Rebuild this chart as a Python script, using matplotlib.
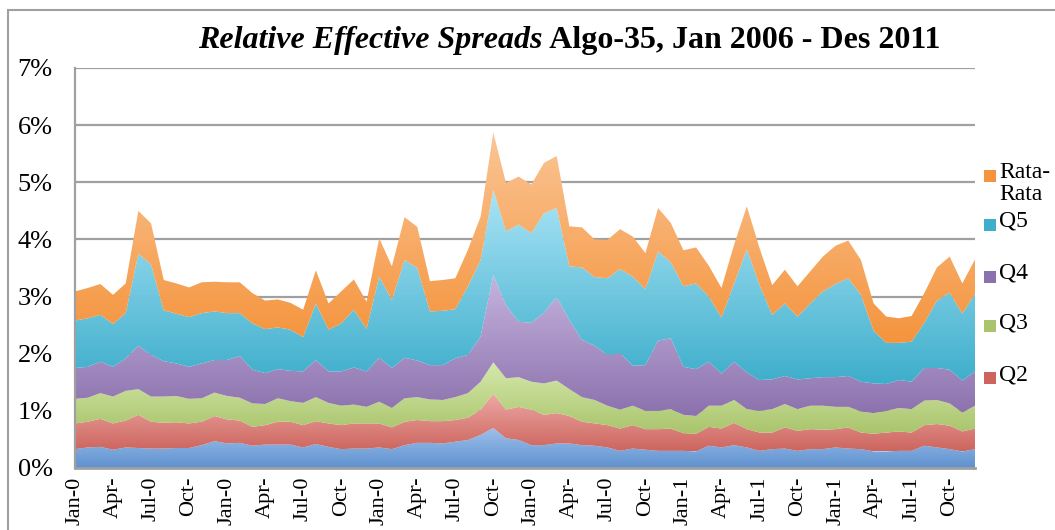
import numpy as np
import matplotlib.pyplot as plt
from matplotlib.colors import LinearSegmentedColormap
from matplotlib.patches import Rectangle

# monthly values (percent), Jan 2006 - Dec 2011
q1 = [0.33, 0.36, 0.37, 0.32, 0.36, 0.35, 0.34, 0.34, 0.35, 0.35, 0.40, 0.47,
      0.43, 0.44, 0.39, 0.41, 0.41, 0.41, 0.36, 0.42, 0.37, 0.33, 0.34, 0.34,
      0.36, 0.33, 0.40, 0.44, 0.44, 0.43, 0.46, 0.49, 0.58, 0.70, 0.52, 0.49,
      0.40, 0.40, 0.43, 0.43, 0.40, 0.39, 0.36, 0.30, 0.34, 0.32, 0.30, 0.30,
      0.30, 0.29, 0.39, 0.36, 0.40, 0.36, 0.30, 0.33, 0.34, 0.30, 0.33, 0.33,
      0.36, 0.34, 0.33, 0.29, 0.29, 0.30, 0.30, 0.39, 0.36, 0.33, 0.29, 0.33]
q2 = [0.45, 0.45, 0.49, 0.46, 0.47, 0.58, 0.47, 0.45, 0.45, 0.43, 0.41, 0.44,
      0.42, 0.39, 0.33, 0.34, 0.40, 0.40, 0.39, 0.40, 0.41, 0.42, 0.44, 0.44,
      0.42, 0.38, 0.41, 0.40, 0.38, 0.39, 0.38, 0.39, 0.44, 0.60, 0.50, 0.58,
      0.62, 0.53, 0.53, 0.48, 0.41, 0.39, 0.39, 0.39, 0.41, 0.36, 0.38, 0.39,
      0.31, 0.31, 0.33, 0.33, 0.39, 0.32, 0.32, 0.29, 0.37, 0.35, 0.35, 0.34,
      0.32, 0.37, 0.29, 0.31, 0.33, 0.34, 0.32, 0.36, 0.41, 0.41, 0.35, 0.36]
q3 = [0.43, 0.42, 0.45, 0.47, 0.52, 0.45, 0.44, 0.46, 0.46, 0.43, 0.41, 0.41,
      0.41, 0.40, 0.41, 0.37, 0.41, 0.36, 0.39, 0.42, 0.36, 0.34, 0.33, 0.29,
      0.38, 0.34, 0.41, 0.40, 0.38, 0.37, 0.40, 0.43, 0.49, 0.55, 0.55, 0.52,
      0.49, 0.55, 0.57, 0.47, 0.43, 0.41, 0.34, 0.33, 0.34, 0.32, 0.32, 0.34,
      0.32, 0.31, 0.37, 0.40, 0.40, 0.35, 0.38, 0.41, 0.41, 0.38, 0.41, 0.42,
      0.39, 0.36, 0.37, 0.36, 0.38, 0.41, 0.41, 0.43, 0.42, 0.39, 0.33, 0.40]
q4 = [0.54, 0.54, 0.55, 0.52, 0.57, 0.76, 0.73, 0.62, 0.57, 0.56, 0.61, 0.57,
      0.63, 0.73, 0.59, 0.54, 0.51, 0.53, 0.55, 0.65, 0.55, 0.60, 0.65, 0.62,
      0.77, 0.70, 0.71, 0.64, 0.60, 0.61, 0.68, 0.67, 0.79, 1.53, 1.28, 0.97,
      1.03, 1.24, 1.46, 1.21, 1.00, 0.95, 0.89, 0.99, 0.70, 0.80, 1.23, 1.24,
      0.84, 0.82, 0.77, 0.56, 0.67, 0.64, 0.54, 0.52, 0.49, 0.52, 0.48, 0.50,
      0.52, 0.54, 0.52, 0.52, 0.47, 0.49, 0.48, 0.57, 0.56, 0.59, 0.56, 0.60]
q5 = [0.83, 0.85, 0.82, 0.75, 0.79, 1.61, 1.58, 0.89, 0.87, 0.87, 0.88, 0.85,
      0.82, 0.75, 0.81, 0.77, 0.73, 0.72, 0.60, 0.99, 0.73, 0.84, 1.01, 0.74,
      1.42, 1.19, 1.71, 1.62, 0.94, 0.95, 0.86, 1.20, 1.34, 1.49, 1.29, 1.70,
      1.57, 1.74, 1.56, 0.94, 1.27, 1.20, 1.34, 1.47, 1.56, 1.33, 1.56, 1.33,
      1.41, 1.50, 1.14, 0.98, 1.37, 2.16, 1.66, 1.13, 1.27, 1.10, 1.31, 1.50,
      1.63, 1.71, 1.52, 0.92, 0.72, 0.65, 0.70, 0.79, 1.18, 1.35, 1.17, 1.36]
rata = [0.51, 0.53, 0.54, 0.51, 0.52, 0.75, 0.72, 0.53, 0.53, 0.52, 0.54, 0.52,
        0.54, 0.54, 0.53, 0.50, 0.49, 0.47, 0.48, 0.58, 0.46, 0.56, 0.53, 0.48,
        0.67, 0.59, 0.75, 0.72, 0.53, 0.54, 0.54, 0.64, 0.76, 1.00, 0.85, 0.84,
        0.85, 0.88, 0.91, 0.70, 0.70, 0.66, 0.67, 0.70, 0.70, 0.63, 0.76, 0.69,
        0.63, 0.63, 0.54, 0.52, 0.68, 0.75, 0.65, 0.52, 0.59, 0.53, 0.56, 0.61,
        0.67, 0.66, 0.61, 0.48, 0.46, 0.43, 0.45, 0.52, 0.58, 0.63, 0.53, 0.60]

series_names = ['Q1', 'Q2', 'Q3', 'Q4', 'Q5', 'Rata-\nRata']
tick_labels = ['Jan-0', 'Apr-', 'Jul-0', 'Oct-'] * 4 + ['Jan-1', 'Apr-', 'Jul-1', 'Oct-'] * 2

# (top colour, bottom colour) of the gradient
colors = [('#9cc0ea', '#5f91cf'),
          ('#eda9a5', '#cd655e'),
          ('#d5e9ab', '#a9c46c'),
          ('#c6b4de', '#8b71ad'),
          ('#aae4f6', '#3eaecb'),
          ('#fbc595', '#f4943d')]

W, H = 1055, 530
plt.rcParams['font.family'] = ['Liberation Serif', 'DejaVu Serif']

fig = plt.figure(figsize=(W / 100, H / 100), dpi=100)
ax = fig.add_axes([75 / W, 62 / H, 900 / W, 400 / H])

x = np.arange(len(q1))
data = [q1, q2, q3, q4, q5, rata]
lower = np.zeros(len(x))
grad = np.linspace(0, 1, 256).reshape(-1, 1)
for vals, (ctop, cbot) in zip(data, colors):
    upper = lower + np.array(vals)
    poly = ax.fill_between(x, lower, upper, color='none', lw=0)
    cmap = LinearSegmentedColormap.from_list('g', [cbot, ctop])
    im = ax.imshow(grad, cmap=cmap, aspect='auto', origin='lower',
                   extent=[x[0], x[-1], lower.min(), upper.max()], zorder=2)
    im.set_clip_path(poly.get_paths()[0], transform=ax.transData)
    lower = upper

ax.set_xlim(0, len(x) - 1)
ax.set_ylim(0, 7)
ax.set_yticks(range(8))
ax.set_yticklabels([f'{v}%' for v in range(8)], fontsize=19)
ax.set_xticks(x[::3])
ax.set_xticklabels(tick_labels, rotation=90, fontsize=16, va='top')
ax.tick_params(axis='both', length=0)
ax.tick_params(axis='y', pad=16)
ax.tick_params(axis='x', pad=6)
ax.grid(axis='y', color='#a0a0a0', lw=1.6, zorder=1)
ax.set_axisbelow(True)
for s in ['top', 'right']:
    ax.spines[s].set_visible(False)
ax.spines['left'].set_color('#a0a0a0')
ax.spines['left'].set_linewidth(1.6)
ax.spines['bottom'].set_color('#a0a0a0')
ax.spines['bottom'].set_linewidth(2)

# outer chart border (only top and left edges fall inside the picture)
fig.patches.append(Rectangle((8 / W, -0.1), 1.1, 1 - 10 / H + 0.1,
                             transform=fig.transFigure, fill=False,
                             ec='#a0a0a0', lw=1.5))

# title: italic part + plain bold part, centred together
t1 = fig.text(0, 1 - 48 / H, 'Relative Effective Spreads', fontsize=23,
              fontweight='bold', fontstyle='italic', va='baseline')
t2 = fig.text(0, 1 - 48 / H, ' Algo-35, Jan 2006 - Des 2011', fontsize=23,
              fontweight='bold', va='baseline')
fig.canvas.draw()
r = fig.canvas.get_renderer()
w1 = t1.get_window_extent(r).width
w2 = t2.get_window_extent(r).width
x0 = 569 - (w1 + w2) / 2
t1.set_x(x0 / W)
t2.set_x((x0 + w1) / W)

# legend (Q1 entry is not shown in the original)
legend_y = [176, 225, 277, 326, 378]
for name, (ctop, cbot), ly in zip(series_names[::-1], colors[::-1], legend_y):
    fig.patches.append(Rectangle((984 / W, 1 - (ly + 6) / H), 12 / W, 12 / H,
                                 transform=fig.transFigure, fc=cbot, ec='none'))
    fig.text(999 / W, 1 - (ly - 14) / H, name, fontsize=17, va='top',
             linespacing=1.05)

fig.savefig('out.png', dpi=100)
